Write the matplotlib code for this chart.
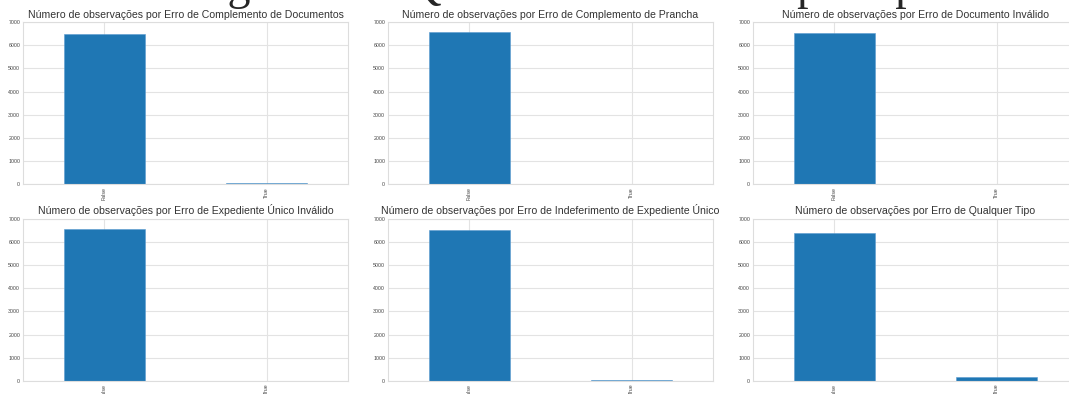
import matplotlib
matplotlib.use("Agg")
import matplotlib.pyplot as plt

plt.style.use("seaborn-v0_8-whitegrid")
plt.rcParams["font.family"] = ["Liberation Sans", "DejaVu Sans"]

categorias = ["False", "True"]

titulos = [
    "Número de observações por Erro de Complemento de Documentos",
    "Número de observações por Erro de Complemento de Prancha",
    "Número de observações por Erro de Documento Inválido",
    "Número de observações por Erro de Expediente Único Inválido",
    "Número de observações por Erro de Indeferimento de Expediente Único",
    "Número de observações por Erro de Qualquer Tipo",
]

erro_complemento_documentos = [6490, 80]
erro_complemento_prancha = [6565, 3]
erro_documento_invalido = [6530, 40]
erro_expediente_invalido = [6555, 15]
erro_indeferimento_expediente = [6520, 50]
erro_qualquer_tipo = [6390, 180]

contagens = [
    erro_complemento_documentos,
    erro_complemento_prancha,
    erro_documento_invalido,
    erro_expediente_invalido,
    erro_indeferimento_expediente,
    erro_qualquer_tipo,
]

fig, axes = plt.subplots(2, 3, figsize=(10.69, 3.94), dpi=100)
fig.subplots_adjust(left=23 / 1069, right=1078 / 1069, top=1 - 22 / 394,
                    bottom=1 - 381 / 394, wspace=0.123, hspace=0.21)

for ax, titulo, valores in zip(axes.flat, titulos, contagens):
    ax.bar(categorias, valores, width=0.5, color="#1f77b4",
           edgecolor="#5a9bd0", linewidth=0.4)
    ax.set_xlim(-0.5, 1.5)
    ax.set_ylim(0, 7000)
    ax.set_yticks(range(0, 7001, 1000))
    ax.set_title(titulo, fontsize=7.6, color="#333333", pad=3)
    ax.tick_params(axis="y", labelsize=3.8, pad=2, colors="#444444")
    ax.tick_params(axis="x", labelsize=3.8, pad=2, colors="#444444",
                   labelrotation=90)
    ax.grid(True, color="#e3e3e3", linewidth=0.8)
    for s in ax.spines.values():
        s.set_color("#dddddd")
        s.set_linewidth(0.8)

fig.text(0.5, 1.0 + 1 / 394, "Histograma de Quantidade de Erros por tipo",
         ha="center", va="baseline", fontsize=33, family="Liberation Serif")

fig.savefig("out.png", dpi=100)
